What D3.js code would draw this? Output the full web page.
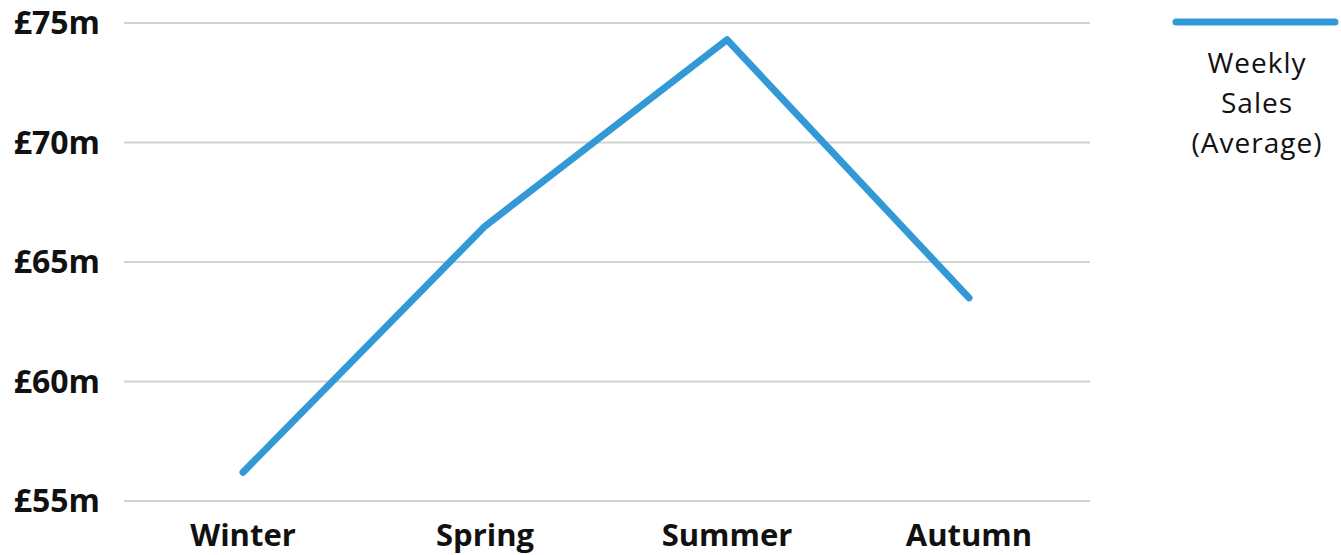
<!DOCTYPE html>
<html>
<head>
<meta charset="utf-8">
<script src="https://cdn.jsdelivr.net/npm/d3@7"></script>
<style>
  body { margin: 0; background: #fff; }
  text { font-family: "Open Sans", Lato, sans-serif; fill: #111; }
</style>
</head>
<body>
<div id="visualization"></div>
<script>
// data
const seasons = ['Winter', 'Spring', 'Summer', 'Autumn']
const weeklySales = [56.2, 66.5, 74.3, 63.5]
const yTicks = [55, 60, 65, 70, 75]
const seriesName = ['Weekly', 'Sales', '(Average)']

const width = 1341
const height = 555
const lineColor = '#3399d6'

let svg = d3.select('#visualization')
            .append('svg')
            .attr('width', width)
            .attr('height', height)

let xScale = d3.scalePoint()
              .domain(seasons)
              .range([122, 1090])
              .padding(0.5)

let yScale = d3.scaleLinear()
              .domain([55, 75])
              .range([501, 23])

// gridlines
svg.append('g')
  .selectAll('line')
  .data(yTicks)
  .enter()
  .append('line')
  .attr('x1', 124)
  .attr('x2', 1090)
  .attr('y1', d => yScale(d))
  .attr('y2', d => yScale(d))
  .attr('stroke', '#d2d2d2')
  .attr('stroke-width', 2)

// y labels
svg.append('g')
  .selectAll('text')
  .data(yTicks)
  .enter()
  .append('text')
  .attr('x', 100)
  .attr('y', d => yScale(d))
  .attr('dy', '0.35em')
  .attr('text-anchor', 'end')
  .style('font-size', '32px')
  .style('font-weight', 'bold')
  .text(d => '£' + d + 'm')

// x labels
svg.append('g')
  .selectAll('text')
  .data(seasons)
  .enter()
  .append('text')
  .attr('x', d => xScale(d))
  .attr('y', 546)
  .attr('text-anchor', 'middle')
  .style('font-size', '31px')
  .style('font-weight', 'bold')
  .text(d => d)

// the line
let line = d3.line()
  .x((d, i) => xScale(seasons[i]))
  .y(d => yScale(d))

svg.append('path')
  .datum(weeklySales)
  .attr('d', line)
  .attr('fill', 'none')
  .attr('stroke', lineColor)
  .attr('stroke-width', 7)
  .attr('stroke-linecap', 'round')
  .attr('stroke-linejoin', 'round')

// legend
svg.append('line')
  .attr('x1', 1176)
  .attr('x2', 1335)
  .attr('y1', 22)
  .attr('y2', 22)
  .attr('stroke', lineColor)
  .attr('stroke-width', 7)
  .attr('stroke-linecap', 'round')

svg.append('g')
  .selectAll('text')
  .data(seriesName)
  .enter()
  .append('text')
  .attr('x', 1257)
  .attr('y', (d, i) => 73 + i * 40)
  .attr('text-anchor', 'middle')
  .style('font-size', '28px')
  .style('letter-spacing', '1px')
  .text(d => d)
</script>
</body>
</html>
